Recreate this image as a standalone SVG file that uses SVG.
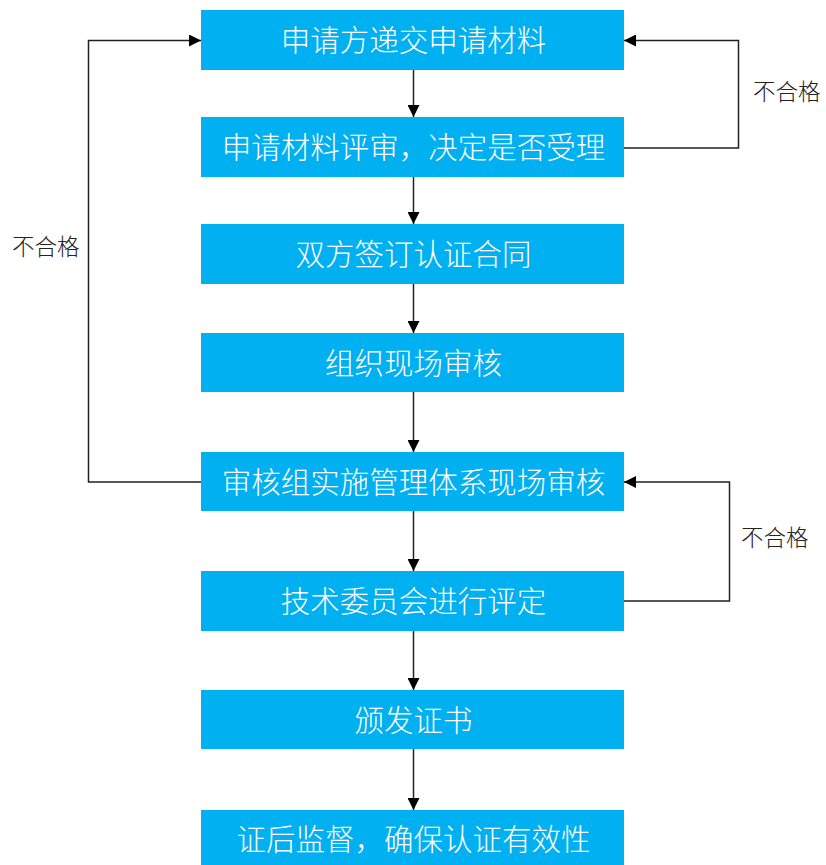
<svg xmlns="http://www.w3.org/2000/svg" width="826" height="865" viewBox="0 0 826 865">
<defs>
<style>
.box{fill:#00B0F0;}
.t{font-family:"Noto Sans CJK SC","Noto Sans",sans-serif;font-size:29.5px;fill:#FFFFFF;text-anchor:middle;dominant-baseline:central;font-weight:300;}
.lbl{font-family:"Noto Sans CJK SC","Noto Sans",sans-serif;font-size:22.5px;fill:#222222;dominant-baseline:central;font-weight:300;}
.ln{fill:none;stroke:#222222;stroke-width:1.5;}
</style>
<marker id="ah" viewBox="0 0 12 12" refX="12" refY="6" markerWidth="12" markerHeight="12" markerUnits="userSpaceOnUse" orient="auto">
<path d="M0,0 L12,6 L0,12 Z" fill="#000000"/>
</marker>
</defs>
<rect width="826" height="865" fill="#FFFFFF"/>
<g id="connectors">
<line class="ln" x1="413.5" y1="70" x2="413.5" y2="117" marker-end="url(#ah)"/>
<line class="ln" x1="413.5" y1="177" x2="413.5" y2="224" marker-end="url(#ah)"/>
<line class="ln" x1="413.5" y1="284" x2="413.5" y2="333" marker-end="url(#ah)"/>
<line class="ln" x1="413.5" y1="392" x2="413.5" y2="452" marker-end="url(#ah)"/>
<line class="ln" x1="413.5" y1="511" x2="413.5" y2="571" marker-end="url(#ah)"/>
<line class="ln" x1="413.5" y1="631" x2="413.5" y2="690" marker-end="url(#ah)"/>
<line class="ln" x1="413.5" y1="749" x2="413.5" y2="810" marker-end="url(#ah)"/>
<polyline class="ln" points="624,148 738.5,148 738.5,40.5 624,40.5" marker-end="url(#ah)"/>
<polyline class="ln" points="201,482 88.5,482 88.5,40.5 201,40.5" marker-end="url(#ah)"/>
<polyline class="ln" points="624,601 729.5,601 729.5,482 624,482" marker-end="url(#ah)"/>
<text class="lbl" x="753" y="90">不合格</text>
<text class="lbl" x="12" y="245">不合格</text>
<text class="lbl" x="741" y="536">不合格</text>
</g>
<g id="n1"><rect class="box" x="201" y="10" width="423" height="60"/><text class="t" x="413.5" y="38">申请方递交申请材料</text></g>
<g id="n2"><rect class="box" x="201" y="117" width="423" height="60"/><text class="t" x="413.5" y="145">申请材料评审，决定是否受理</text></g>
<g id="n3"><rect class="box" x="201" y="224" width="423" height="60"/><text class="t" x="413.5" y="252">双方签订认证合同</text></g>
<g id="n4"><rect class="box" x="201" y="333" width="423" height="59"/><text class="t" x="413.5" y="360.5">组织现场审核</text></g>
<g id="n5"><rect class="box" x="201" y="452" width="423" height="59"/><text class="t" x="413.5" y="479.5">审核组实施管理体系现场审核</text></g>
<g id="n6"><rect class="box" x="201" y="571" width="423" height="60"/><text class="t" x="413.5" y="599">技术委员会进行评定</text></g>
<g id="n7"><rect class="box" x="201" y="690" width="423" height="59"/><text class="t" x="413.5" y="717.5">颁发证书</text></g>
<g id="n8"><rect class="box" x="201" y="810" width="423" height="60"/><text class="t" x="413.5" y="837">证后监督，确保认证有效性</text></g>
</svg>
